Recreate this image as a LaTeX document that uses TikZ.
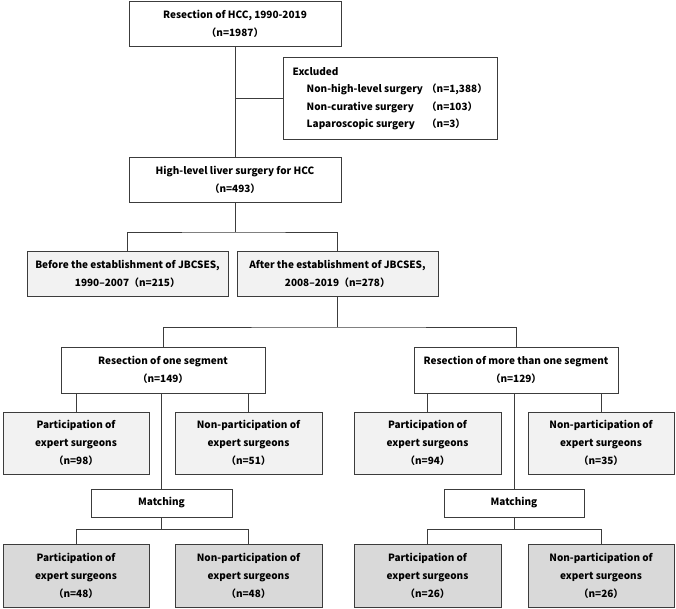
\documentclass[tikz,border=0pt]{standalone}
\usepackage{fontspec}
\setmainfont{Noto Sans CJK JP}

\definecolor{boxline}{HTML}{3C3C3C}
\definecolor{lightfill}{HTML}{F2F2F2}
\definecolor{darkfill}{HTML}{D9D9D9}

\tikzset{
  box/.style = {draw=boxline, line width=0.8pt, fill=white, inner sep=0pt,
                outer sep=0pt, align=center,
                font=\fontsize{10}{18}\selectfont\bfseries},
  lightbox/.style = {box, fill=lightfill},
  darkbox/.style = {box, fill=darkfill},
  link/.style = {draw=boxline, line width=0.8pt}
}

\begin{document}
\begin{tikzpicture}[x=1pt, y=-1pt]
  \useasboundingbox (0,0) rectangle (676,608);

  % cohort
  \node [box, minimum width=212, minimum height=45] (total) at (235, 23.5)
    {Resection of HCC, 1990-2019\\（n=1987）};
  \node [box, minimum width=214, minimum height=82] (excl) at (390, 98)
    {\fontsize{10}{17.6}\selectfont\bfseries
     \begin{tabular}{@{}p{14pt}@{}p{120pt}@{}l@{}}
       \multicolumn{3}{@{}l@{}}{Excluded}\\
       & Non-high-level surgery & （n=1,388）\\
       & Non-curative surgery & （n=103）\\
       & Laparoscopic surgery & （n=3）
     \end{tabular}};
  \node [box, minimum width=212, minimum height=45] (high) at (235, 179.5)
    {High-level liver surgery for HCC\\（n=493）};

  % periods
  \node [lightbox, minimum width=201, minimum height=45] (before) at (127.5, 273.5)
    {Before the establishment of JBCSES,\\1990–2007（n=215）};
  \node [lightbox, minimum width=201, minimum height=45] (after) at (337.5, 273.5)
    {After the establishment of JBCSES,\\2008–2019（n=278）};

  % extent of resection
  \node [box, minimum width=204, minimum height=46] (one) at (163, 370)
    {Resection of one segment\\（n=149）};
  \node [box, minimum width=204, minimum height=46] (more) at (516, 370)
    {Resection of more than one segment\\（n=129）};

  % before matching
  \node [lightbox, minimum width=146, minimum height=62] (partA) at (76, 443)
    {Participation of\\expert surgeons\\（n=98）};
  \node [lightbox, minimum width=147, minimum height=62] (nonA) at (248.5, 443)
    {Non-participation of\\expert surgeons\\（n=51）};
  \node [lightbox, minimum width=147, minimum height=62] (partB) at (427.5, 443)
    {Participation of\\expert surgeons\\（n=94）};
  \node [lightbox, minimum width=146, minimum height=62] (nonB) at (601, 443)
    {Non-participation of\\expert surgeons\\（n=35）};

  \node [box, minimum width=141, minimum height=28] (matchA) at (161.5, 503) {Matching};
  \node [box, minimum width=140, minimum height=28] (matchB) at (514, 503) {Matching};

  % after matching
  \node [darkbox, minimum width=146, minimum height=63] (mpartA) at (76, 575.5)
    {Participation of\\expert surgeons\\（n=48）};
  \node [darkbox, minimum width=147, minimum height=63] (mnonA) at (248.5, 575.5)
    {Non-participation of\\expert surgeons\\（n=48）};
  \node [darkbox, minimum width=147, minimum height=63] (mpartB) at (427.5, 575.5)
    {Participation of\\expert surgeons\\（n=26）};
  \node [darkbox, minimum width=146, minimum height=63] (mnonB) at (601, 575.5)
    {Non-participation of\\expert surgeons\\（n=26）};

  \coordinate (splitP) at (235, 232);
  \coordinate (splitR) at (337.5, 327);
  \coordinate (splitA) at (161.5, 529);
  \coordinate (splitB) at (514, 529);

  % connectors
  \draw [link] (total) -- (high);
  \draw [link] (excl.west) -- (excl.west -| total.south);
  \draw [link] (high) -- (splitP);
  \draw [link] (before.north) |- (splitP) -| (after.north);
  \draw [link] (after) -- (splitR);
  \draw [link] (one.north) |- (splitR) -| (more.north);

  \draw [link] (partA.north) -- (partA.north |- one.south);
  \draw [link] (nonA.north) -- (nonA.north |- one.south);
  \draw [link] (matchA.north) -- (matchA.north |- one.south);
  \draw [link] (partB.north) -- (partB.north |- more.south);
  \draw [link] (nonB.north) -- (nonB.north |- more.south);
  \draw [link] (matchB.north) -- (matchB.north |- more.south);

  \draw [link] (matchA) -- (splitA);
  \draw [link] (mpartA.north) |- (splitA) -| (mnonA.north);
  \draw [link] (matchB) -- (splitB);
  \draw [link] (mpartB.north) |- (splitB) -| (mnonB.north);
\end{tikzpicture}
\end{document}
